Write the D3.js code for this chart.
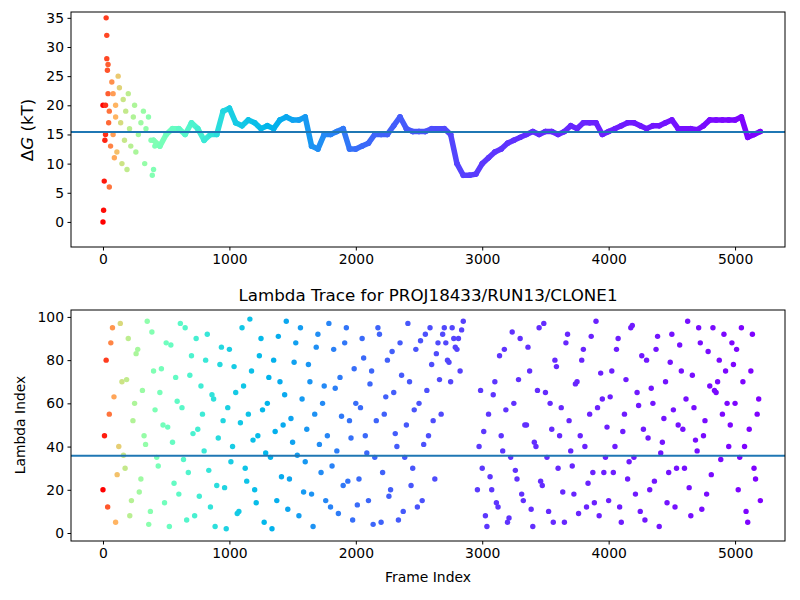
<!DOCTYPE html>
<html><head><meta charset="utf-8">
<script src="https://cdn.jsdelivr.net/npm/d3@7"></script>
<style>body{margin:0;background:#fff}text{font-family:"DejaVu Sans",sans-serif}</style>
</head><body><div id="chart"></div>
<script>
// early noisy free energy estimates [frame, dG]
const earlyDG = [[0,0],[0,20],[5,2],[10,7],[15,14],[20,20],[20,15],[25,35],[30,32],[30,28],[35,26],[40,27],[40,22],[45,17],[50,6],[50,19],
  [60,13],[70,24],[80,22],[80,15],[90,11],[100,18],[100,20],[110,12],[120,25],[130,23],[140,17],[150,10],[160,21],[170,14],[180,19],[190,9],
  [200,22],[210,16],[220,13],[240,18],[250,20],[260,12],[280,15],[300,17],[320,19],[330,10],[340,16],[360,18],[380,14],[390,8],[400,9],[410,13]];
// dG trace every 50 frames starting at 400
const traceStart = 400, traceStep = 50;
const traceDG = [14,13,15,16,16,15,17,16,14,15,15,19,19.5,17,16.5,17.5,17,16,16.5,16,17.5,18,17.5,17.5,18,13,12.5,15,15,15.5,16,12.5,12.5,13,13.5,15,15,15,16.5,18,
  16,15.5,15.5,15.5,16,16,16,15,10,8,8,8.2,10,11,12,12.5,13.5,14,14.5,15,15.5,15,15.5,15.5,15,15.5,16.5,16,17,17,17,15,15.5,16,16.5,17,17,16.5,16,16.5,16.5,17,17.5,16,16,16,15.8,16.5,17.5,17.5,17.5,17.5,17.5,18,14.5,15,15.5];
const dGMean = 15.4;
// lambda index, two interleaved samplings every 25 frames
const lambdaStep = 25, lambdaOffset2 = 12;
const lambdaIdx = [
  20,80,55,95,5,40,70,30,90,15,60,85,25,45,98,10,75,35,65,50,88,3,42,72,18,58,95,28,82,8,48,68,38,92,12,62,22,78,52,2,
  85,40,65,10,95,30,55,75,20,45,90,5,60,35,80,15,70,50,98,25,42,88,8,62,33,78,18,55,92,28,68,45,12,85,38,72,22,95,52,6,
  60,25,90,45,15,75,35,95,5,55,80,20,65,40,88,10,50,70,30,85,60,15,92,45,78,25,88,55,95,80,70,90,85,75,98,null,null,null,null,40,
  30,8,55,20,70,12,45,85,5,35,60,25,90,15,50,75,3,40,95,22,65,10,48,80,30,58,5,92,38,18,70,45,85,12,55,28,98,8,62,35,
  15,75,40,90,5,55,25,95,35,65,10,48,80,20,60,85,3,42,70,28,92,12,50,75,30,98,8,58,38,88,45,18,68,95,65,80,55,75,40,88,
  60,20,95,40,5,75,30,55,15];
const lambdaIdx2 = [
  45,12,88,63,27,97,36,71,8,52,83,19,66,41,4,93,57,31,76,14,49,87,23,61,97,34,6,73,46,90,17,55,80,29,64,3,44,86,21,58,
  33,77,9,51,68,24,99,43,14,82,57,37,72,2,47,91,26,64,11,53,79,36,95,19,48,70,3,86,41,60,15,97,31,67,9,54,88,24,44,76,
  13,58,81,37,69,4,52,92,28,63,17,84,46,6,73,35,97,22,57,12,89,41,66,95,52,83,71,92,88,79,95,86,90,94,null,null,null,null,20,66,
  47,3,26,64,14,82,38,57,7,93,29,71,18,50,86,11,42,66,24,97,35,60,5,77,45,19,88,52,31,69,9,80,40,23,91,14,58,74,28,49,
  63,28,85,12,47,71,33,96,18,59,82,6,44,67,24,91,37,53,14,79,57,30,87,48,62,21,73,43,95,11,52,84,27,66,70,34,92,60,50,78,
  85,35,70,10,48,92,25,62];
const lambdaMean = 35.7;
const title = "Lambda Trace for PROJ18433/RUN13/CLONE1";

// colour: frame -> position on matplotlib rainbow (reversed, fast decay)
const colorFrames = [0,50,150,400,1000,2000,3000,5200];
const colorPos = [1,0.85,0.65,0.5,0.3,0.14,0.07,0];
const posScale = d3.scaleLinear().domain(colorFrames).range(colorPos).clamp(true);
function rainbow(t){
  const c = v => Math.round(Math.max(0,Math.min(1,v))*255);
  return `rgb(${c(Math.abs(2*t-0.5))},${c(Math.sin(Math.PI*t))},${c(Math.cos(Math.PI*t/2))})`;
}
const color = f => rainbow(posScale(f));

const svg = d3.select('#chart').append('svg').attr('width',800).attr('height',600);
const x1 = d3.scaleLinear().domain([-253,5395]).range([71,785]);

function frame(g, y, yTicks, top, bottom){
  g.append('g').attr('transform',`translate(0,${bottom})`)
    .call(d3.axisBottom(x1).tickValues([0,1000,2000,3000,4000,5000]).tickFormat(d3.format('d')).tickSize(3.5).tickPadding(3.5))
    .call(a=>a.selectAll('text').attr('font-size',13.9).attr('fill','#000'));
  g.append('g').attr('transform','translate(71,0)')
    .call(d3.axisLeft(y).tickValues(yTicks).tickSize(3.5).tickPadding(3.5))
    .call(a=>a.selectAll('text').attr('font-size',13.9).attr('fill','#000'));
  g.selectAll('.domain').remove();
  g.append('rect').attr('x',71).attr('y',top).attr('width',714).attr('height',bottom-top)
    .attr('fill','none').attr('stroke','#000').attr('stroke-width',1);
}

// top panel
const yTop = d3.scaleLinear().domain([-4.3,36]).range([247,12]);
const gT = svg.append('g');
const tracePts = traceDG.map((v,i)=>[traceStart+i*traceStep, v]);
const allTop = earlyDG.concat(tracePts);
d3.pairs(tracePts).forEach(([a,b])=>{
  gT.append('line').attr('x1',x1(a[0])).attr('y1',yTop(a[1])).attr('x2',x1(b[0])).attr('y2',yTop(b[1]))
    .attr('stroke',color(a[0])).attr('stroke-width',5.5).attr('stroke-linecap','round');
});
gT.selectAll('circle').data(allTop).join('circle')
  .attr('cx',d=>x1(d[0])).attr('cy',d=>yTop(d[1])).attr('r',2.7).attr('fill',d=>color(d[0]));
gT.append('line').attr('x1',71).attr('x2',785).attr('y1',yTop(dGMean)).attr('y2',yTop(dGMean))
  .attr('stroke','#1f77b4').attr('stroke-width',2);
frame(gT, yTop, d3.range(0,36,5), 12, 247);
gT.append('text').attr('transform','translate(33,130) rotate(-90)').attr('text-anchor','middle').attr('font-size',16.7)
  .html('Δ<tspan font-style="italic">G</tspan> (kT)');

// bottom panel
const yBot = d3.scaleLinear().domain([-3.7,103.2]).range([541,310]);
const gB = svg.append('g');
const lamPts = lambdaIdx.map((v,i)=>[i*lambdaStep, v])
  .concat(lambdaIdx2.map((v,i)=>[lambdaOffset2+i*lambdaStep, v]))
  .filter(d=>d[1]!==null);
gB.selectAll('circle').data(lamPts).join('circle')
  .attr('cx',d=>x1(d[0])).attr('cy',d=>yBot(d[1])).attr('r',2.7).attr('fill',d=>color(d[0]));
gB.append('line').attr('x1',71).attr('x2',785).attr('y1',yBot(lambdaMean)).attr('y2',yBot(lambdaMean))
  .attr('stroke','#1f77b4').attr('stroke-width',2);
frame(gB, yBot, d3.range(0,101,20), 310, 541);
gB.append('text').attr('x',428).attr('y',301).attr('text-anchor','middle').attr('font-size',16.7).text(title);
gB.append('text').attr('transform','translate(25,425) rotate(-90)').attr('text-anchor','middle').attr('font-size',13.9).text('Lambda Index');
gB.append('text').attr('x',428).attr('y',582).attr('text-anchor','middle').attr('font-size',13.9).text('Frame Index');
</script></body></html>
